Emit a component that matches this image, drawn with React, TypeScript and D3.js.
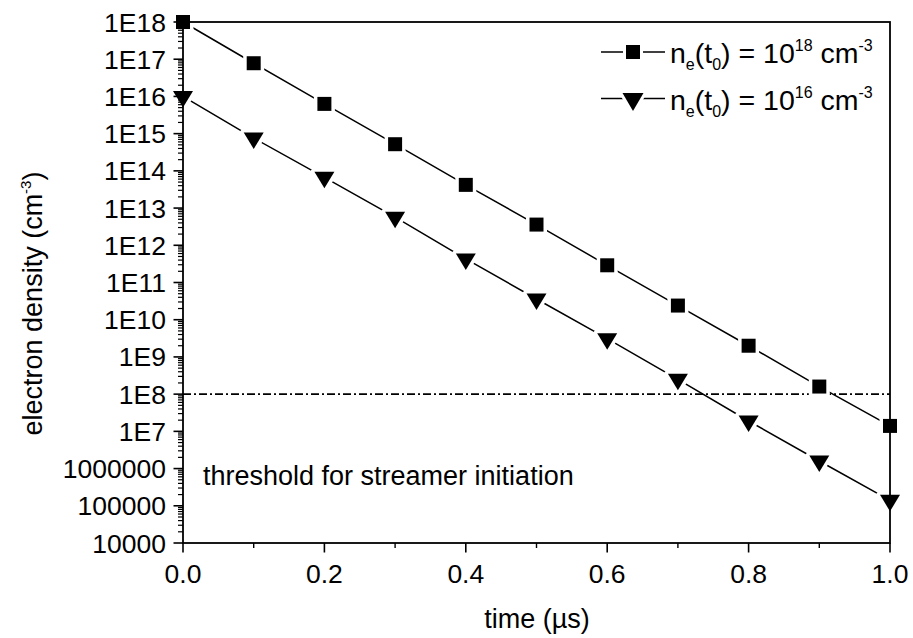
import React from "react";
import * as d3 from "d3";

// time in microseconds
const times = [0, 0.1, 0.2, 0.3, 0.4, 0.5, 0.6, 0.7, 0.8, 0.9, 1.0];
// electron density (cm^-3), initial density 1e18
const densityHigh = [1e18, 7.8e16, 6.3e15, 5.2e14, 4.2e13, 3.6e12, 2.9e11, 2.4e10, 2.0e9, 1.6e8, 1.4e7];
// electron density (cm^-3), initial density 1e16
const densityLow = [1e16, 7.6e14, 6.7e13, 5.7e12, 4.3e11, 3.6e10, 3.1e9, 2.5e8, 1.9e7, 1.6e6, 1.4e5];
const threshold = 1e8;

const xTicks = [0, 0.2, 0.4, 0.6, 0.8, 1.0];
const xMinorTicks = [0.1, 0.3, 0.5, 0.7, 0.9];
const yTicks = [1e4, 1e5, 1e6, 1e7, 1e8, 1e9, 1e10, 1e11, 1e12, 1e13, 1e14, 1e15, 1e16, 1e17, 1e18];
const yTickLabels = ["10000", "100000", "1000000", "1E7", "1E8", "1E9", "1E10", "1E11", "1E12", "1E13", "1E14", "1E15", "1E16", "1E17", "1E18"];

const W = 913;
const H = 638;
const left = 183;
const right = 890;
const top = 22;
const bottom = 543;
const FONT = "'Liberation Sans', Arial, Helvetica, sans-serif";

const x = d3.scaleLinear().domain([0, 1]).range([left, right]);
const y = d3.scaleLog().domain([1e4, 1e18]).range([bottom, top]);

const SQ = 14;
const TRI_W = 20;
const TRI_H = 16.5;

function squarePath(cx: number, cy: number, s: number) {
  const h = s / 2;
  return `M${cx - h},${cy - h}H${cx + h}V${cy + h}H${cx - h}Z`;
}
// down-pointing triangle with its centroid on (cx, cy)
function trianglePath(cx: number, cy: number, w: number, h: number) {
  const t = cy - h / 3;
  const b = cy + (2 * h) / 3;
  return `M${cx - w / 2},${t}L${cx + w / 2},${t}L${cx},${b}Z`;
}

function LegendLabel({ x0, y0, exp }: { x0: number; y0: number; exp: string }) {
  return (
    <text x={x0} y={y0} fontSize={28.5} fill="#000">
      n<tspan dy={7} fontSize={16}>e</tspan>
      <tspan dy={-7}>(t</tspan>
      <tspan dy={7} fontSize={16}>0</tspan>
      <tspan dy={-7}>) = 10</tspan>
      <tspan dy={-12} fontSize={16}>{exp}</tspan>
      <tspan dy={12}> cm</tspan>
      <tspan dy={-12} fontSize={16}>-3</tspan>
    </text>
  );
}

export default function App() {
  const line = d3
    .line<number>()
    .x((_, i) => x(times[i]))
    .y((d) => y(d));

  const minorY: number[] = [];
  for (let e = 4; e < 18; e++) {
    for (let m = 2; m <= 9; m++) minorY.push(m * Math.pow(10, e));
  }

  const highPts = densityHigh.map((d, i) => [x(times[i]), y(d)] as [number, number]);
  const lowPts = densityLow.map((d, i) => [x(times[i]), y(d)] as [number, number]);

  return (
    <svg
      width={W}
      height={H}
      style={{ position: "absolute", left: 0, top: 0, background: "#fff" }}
      fontFamily={FONT}
    >
      <rect x={0} y={0} width={W} height={H} fill="#fff" />

      {/* series lines */}
      <path d={line(densityHigh) || ""} fill="none" stroke="#000" strokeWidth={1.5} />
      <path d={line(densityLow) || ""} fill="none" stroke="#000" strokeWidth={1.5} />

      {/* streamer threshold */}
      <line
        x1={left}
        x2={right}
        y1={y(threshold)}
        y2={y(threshold)}
        stroke="#000"
        strokeWidth={1.6}
        strokeDasharray="8,3,2,3"
      />

      {/* white gaps where lines meet markers */}
      {highPts.map(([cx, cy], i) => (
        <path key={`hs${i}`} d={squarePath(cx, cy, SQ)} fill="#fff" stroke="#fff" strokeWidth={7} />
      ))}
      {lowPts.map(([cx, cy], i) => (
        <path key={`ht${i}`} d={trianglePath(cx, cy, TRI_W, TRI_H)} fill="#fff" stroke="#fff" strokeWidth={7} strokeLinejoin="round" />
      ))}

      {/* frame */}
      <rect x={left} y={top} width={right - left} height={bottom - top} fill="none" stroke="#000" strokeWidth={1.8} />

      {/* y ticks */}
      {yTicks.map((v) => (
        <line key={`ym${v}`} x1={left - 9.5} x2={left} y1={y(v)} y2={y(v)} stroke="#000" strokeWidth={1.6} />
      ))}
      {minorY.map((v) => (
        <line key={`yn${v}`} x1={left - 5} x2={left} y1={y(v)} y2={y(v)} stroke="#000" strokeWidth={1.2} />
      ))}
      {yTicks.map((v, i) => (
        <text key={`yl${v}`} x={166} y={y(v) + 9.5} textAnchor="end" fontSize={26.5} fill="#000">
          {yTickLabels[i]}
        </text>
      ))}

      {/* x ticks */}
      {xTicks.map((v) => (
        <line key={`xm${v}`} x1={x(v)} x2={x(v)} y1={bottom} y2={bottom + 9.5} stroke="#000" strokeWidth={1.6} />
      ))}
      {xMinorTicks.map((v) => (
        <line key={`xn${v}`} x1={x(v)} x2={x(v)} y1={bottom} y2={bottom + 5} stroke="#000" strokeWidth={1.4} />
      ))}
      {xTicks.map((v) => (
        <text key={`xl${v}`} x={x(v)} y={583} textAnchor="middle" fontSize={26.5} fill="#000">
          {d3.format(".1f")(v)}
        </text>
      ))}

      {/* markers */}
      {highPts.map(([cx, cy], i) => (
        <path key={`ms${i}`} d={squarePath(cx, cy, SQ)} fill="#000" />
      ))}
      {lowPts.map(([cx, cy], i) => (
        <path key={`mt${i}`} d={trianglePath(cx, cy, TRI_W, TRI_H)} fill="#000" />
      ))}

      {/* axis titles */}
      <text x={537} y={628} textAnchor="middle" fontSize={27} fill="#000">
        time (µs)
      </text>
      <text transform="translate(42,303.5) rotate(-90)" textAnchor="middle" fontSize={27} fill="#000">
        electron density (cm<tspan dy={-11} fontSize={15}>-3</tspan>
        <tspan dy={11}>)</tspan>
      </text>

      <text x={203} y={485} fontSize={27} fill="#000">
        threshold for streamer initiation
      </text>

      {/* legend */}
      <g>
        <line x1={601} x2={665} y1={52} y2={52} stroke="#000" strokeWidth={1.5} />
        <path d={squarePath(633, 52, 14)} fill="#fff" stroke="#fff" strokeWidth={6} />
        <path d={squarePath(633, 52, 14)} fill="#000" />
        <LegendLabel x0={670} y0={63} exp="18" />

        <line x1={601} x2={665} y1={98.5} y2={98.5} stroke="#000" strokeWidth={1.5} />
        <path d={trianglePath(633, 99, 21, 18)} fill="#fff" stroke="#fff" strokeWidth={6} strokeLinejoin="round" />
        <path d={trianglePath(633, 99, 21, 18)} fill="#000" />
        <LegendLabel x0={670} y0={110} exp="16" />
      </g>
    </svg>
  );
}
